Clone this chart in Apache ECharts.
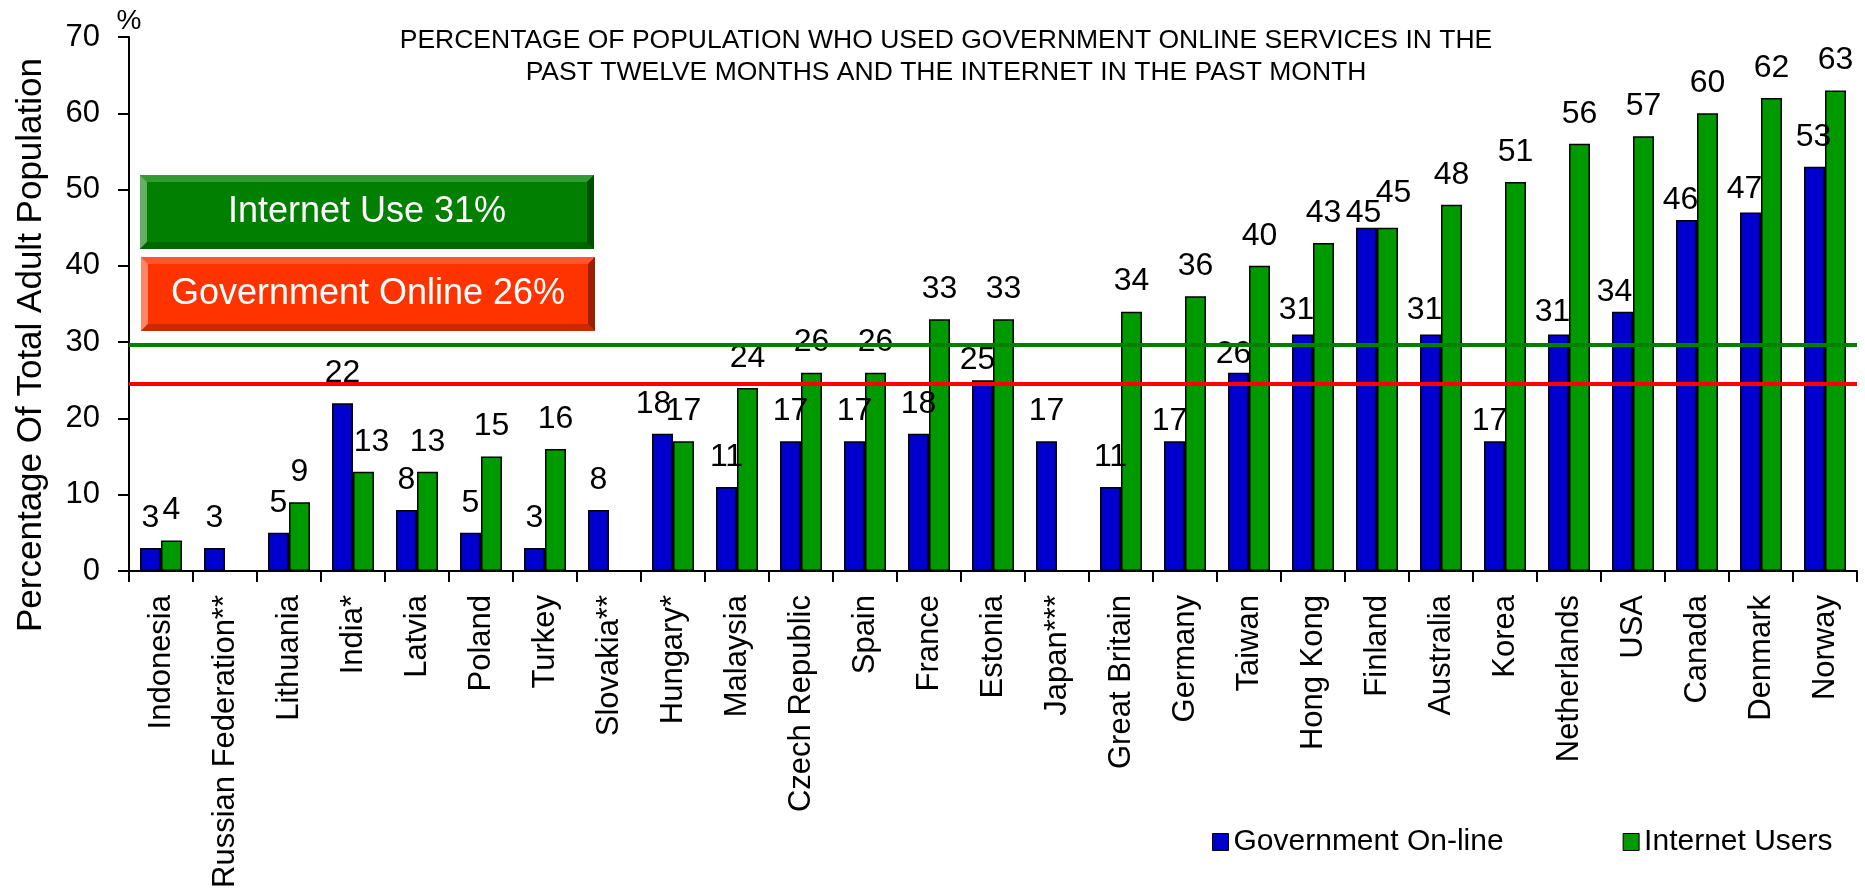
<!DOCTYPE html>
<html>
<head>
<meta charset="utf-8">
<title>Government online services and Internet use</title>
<script src="https://cdn.jsdelivr.net/npm/echarts@6/dist/echarts.min.js"></script>
<style>
  html, body { margin: 0; padding: 0; background: #fff; }
  #chart { width: 1865px; height: 891px; }
</style>
</head>
<body>
<div id="chart"></div>
<script>
// Countries, ordered by Internet use
const categories = [
  'Indonesia', 'Russian Federation**', 'Lithuania', 'India*', 'Latvia', 'Poland',
  'Turkey', 'Slovakia**', 'Hungary*', 'Malaysia', 'Czech Republic', 'Spain',
  'France', 'Estonia', 'Japan***', 'Great Britain', 'Germany', 'Taiwan',
  'Hong Kong', 'Finland', 'Australia', 'Korea', 'Netherlands', 'USA',
  'Canada', 'Denmark', 'Norway'
];

// % of adult population who used government online services in the past 12 months
const govOnline = [
  3, 3, 5, 22, 8, 5, 3, 8, 18, 11, 17, 17, 18, 25, 17, 11, 17, 26,
  31, 45, 31, 17, 31, 34, 46, 47, 53
];

// % of adult population who used the Internet in the past month (null = not surveyed)
const internetUsers = [
  4, null, 9, 13, 13, 15, 16, null, 17, 24, 26, 26, 33, 33, null, 34, 36, 40,
  43, 45, 48, 51, 56, 57, 60, 62, 63
];

// Value axis ticks
const yTicks = [0, 10, 20, 30, 40, 50, 60, 70];

// Averages shown in the boxes and the reference lines drawn across the plot
const internetAverage = 31;
const govAverage = 26;
const internetRefLine = 29.7;
const govRefLine = 24.5;

const seriesNames = ['Government On-line', 'Internet Users'];
const titleLines = [
  'PERCENTAGE OF POPULATION WHO USED GOVERNMENT ONLINE SERVICES IN THE',
  'PAST TWELVE MONTHS AND THE INTERNET IN THE PAST MONTH'
];
const yAxisTitle = 'Percentage Of Total Adult Population';

// ---- styling ----
const FONT = '"Liberation Sans", Arial, Helvetica, sans-serif';
const BLUE = '#0000cc';
const GREEN = '#009900';

// small label nudges [dx, dy] so value labels clear the neighbouring bars and lines
const govLabelNudge = {
  'Hungary*': [-9, 0], 'Germany': [-5, 10], 'Taiwan': [-5, 12], 'Estonia': [-5, 10],
  'Hong Kong': [-6, 6], 'Finland': [-3, 15], 'Australia': [-6, 6], 'Korea': [-5, 10],
  'Netherlands': [-6, 8], 'USA': [-8, 11], 'Canada': [-6, 10], 'Denmark': [-6, 7],
  'Norway': [-1, 0]
};
const netLabelNudge = { 'India*': [8, 0], 'Finland': [6, -5] };

function withNudges(values, nudges) {
  return values.map((v, i) => {
    const n = nudges[categories[i]];
    return n ? { value: v, label: { offset: n } } : v;
  });
}

const labelStyle = {
  show: true,
  position: 'top',
  distance: 14,
  fontSize: 32,
  fontFamily: FONT,
  color: '#000',
  formatter: p => (p.value == null ? '' : p.value)
};

// bevelled annotation box built from polygons
function bevelBox(x, y, w, h, b, c, text) {
  return {
    type: 'group',
    x: x, y: y,
    children: [
      { type: 'rect', shape: { x: 0, y: 0, width: w, height: h }, style: { fill: c.main } },
      { type: 'polygon', shape: { points: [[0, 0], [w, 0], [w - b, b], [b, b]] }, style: { fill: c.top } },
      { type: 'polygon', shape: { points: [[0, 0], [b, b], [b, h - b], [0, h]] }, style: { fill: c.left } },
      { type: 'polygon', shape: { points: [[0, h], [b, h - b], [w - b, h - b], [w, h]] }, style: { fill: c.bottom } },
      { type: 'polygon', shape: { points: [[w, 0], [w, h], [w - b, h - b], [w - b, b]] }, style: { fill: c.right } },
      {
        type: 'text',
        x: w / 2, y: h / 2,
        style: {
          text: text, fill: '#fff', fontSize: 36, fontFamily: FONT,
          textAlign: 'center', textVerticalAlign: 'middle'
        }
      }
    ]
  };
}

const chart = echarts.init(document.getElementById('chart'), null, { renderer: 'canvas' });

chart.setOption({
  animation: false,
  backgroundColor: '#fff',
  title: {
    text: titleLines.join('\n'),
    left: 946,
    textAlign: 'center',
    top: 25,
    padding: 0,
    textStyle: {
      fontSize: 26.5, fontWeight: 'normal', fontFamily: FONT, color: '#000', lineHeight: 32
    }
  },
  legend: {
    data: seriesNames,
    left: 1207,
    top: 822,
    itemWidth: 16,
    itemHeight: 17,
    itemGap: 119,
    icon: 'rect',
    itemStyle: { borderColor: '#000', borderWidth: 1 },
    textStyle: { fontSize: 30, fontFamily: FONT, color: '#000' }
  },
  grid: { left: 129, right: 8, top: 37, bottom: 320, containLabel: false },
  xAxis: {
    type: 'category',
    data: categories,
    boundaryGap: true,
    axisLine: { lineStyle: { color: '#000', width: 2 } },
    axisTick: { show: true, interval: 0, length: 11, lineStyle: { color: '#000', width: 2 } },
    axisLabel: {
      interval: 0, rotate: 90, margin: 24,
      fontSize: 31, fontFamily: FONT, color: '#000'
    },
    splitLine: { show: false }
  },
  yAxis: {
    type: 'value',
    min: yTicks[0],
    max: yTicks[yTicks.length - 1],
    interval: yTicks[1] - yTicks[0],
    name: '%',
    nameLocation: 'end',
    nameGap: 2,
    nameTextStyle: { fontSize: 28, fontFamily: FONT, color: '#000', align: 'center', verticalAlign: 'bottom' },
    axisLine: { show: true, lineStyle: { color: '#000', width: 2 } },
    axisTick: { show: true, length: 11, lineStyle: { color: '#000', width: 2 } },
    axisLabel: { margin: 29, fontSize: 31, fontFamily: FONT, color: '#000' },
    splitLine: { show: false }
  },
  series: [
    {
      name: seriesNames[0],
      type: 'bar',
      data: withNudges(govOnline, govLabelNudge),
      barWidth: 21,
      barGap: '0%',
      itemStyle: { color: BLUE, borderColor: '#000', borderWidth: 1.5 },
      label: labelStyle
    },
    {
      name: seriesNames[1],
      type: 'bar',
      data: withNudges(internetUsers, netLabelNudge),
      barWidth: 21,
      barGap: '0%',
      itemStyle: { color: GREEN, borderColor: '#000', borderWidth: 1.5 },
      label: labelStyle,
      markLine: {
        silent: true,
        symbol: 'none',
        label: { show: false },
        data: [
          { yAxis: internetRefLine, lineStyle: { color: '#008000', width: 4, type: 'solid' } },
          { yAxis: govRefLine, lineStyle: { color: '#ff0000', width: 4, type: 'solid' } }
        ]
      }
    }
  ],
  graphic: [
    {
      type: 'text',
      x: 31, y: 345,
      rotation: Math.PI / 2,
      style: {
        text: yAxisTitle, fontSize: 35, fontFamily: FONT, fill: '#000',
        textAlign: 'center', textVerticalAlign: 'middle'
      }
    },
    bevelBox(140, 175, 454, 74, 7,
      { main: '#007f00', top: '#339933', left: '#66b066', bottom: '#006600', right: '#004d00' },
      'Internet Use ' + internetAverage + '%'),
    bevelBox(141, 257, 454, 74, 7,
      { main: '#ff3300', top: '#ff5533', left: '#ff8566', bottom: '#cc2900', right: '#992000' },
      'Government Online ' + govAverage + '%')
  ]
});
</script>
</body>
</html>
